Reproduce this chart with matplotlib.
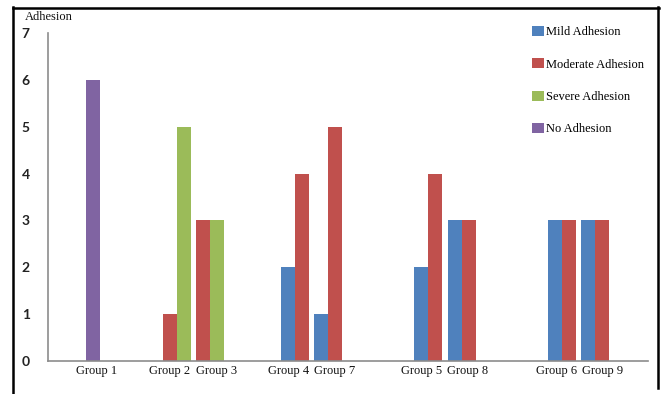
import matplotlib
matplotlib.use("Agg")
import matplotlib.pyplot as plt
from matplotlib.lines import Line2D
from matplotlib.patches import Patch

# ---- data ----
groups = ["Group 1", "Group 2", "Group 3", "Group 4", "Group 7",
          "Group 5", "Group 8", "Group 6", "Group 9"]
series = ["Mild Adhesion", "Moderate Adhesion", "Severe Adhesion", "No Adhesion"]
mild     = [0, 0, 0, 2, 1, 2, 3, 3, 3]
moderate = [0, 1, 3, 4, 5, 4, 3, 3, 3]
severe   = [0, 5, 3, 0, 0, 0, 0, 0, 0]
none_adh = [6, 0, 0, 0, 0, 0, 0, 0, 0]
yticks = [0, 1, 2, 3, 4, 5, 6, 7]

# ---- layout (x in bar-width units) ----
bar_centers = [3.27, 9.26, 11.61, 17.68, 20.02, 27.16, 29.56, 36.76, 39.11]
label_pos = [3.49, 8.74, 12.09, 17.24, 20.49, 26.74, 30.02, 36.38, 39.66]
colors = ["#4F81BD", "#C0504D", "#9BBB59", "#8064A2"]

serif = "Liberation Serif"

fig = plt.figure(figsize=(6.61, 3.94), dpi=100)
fig.patch.set_facecolor("white")
W, H = 661, 394
ax = fig.add_axes([47.7 / W, 1 - 361 / H, (648.3 - 47.7) / W, (361 - 33) / H])

values = [mild, moderate, severe, none_adh]
for gi in range(len(groups)):
    present = [si for si in range(len(series)) if values[si][gi] > 0]
    n = len(present)
    for k, si in enumerate(present):
        x = bar_centers[gi] + (k - (n - 1) / 2)
        ax.bar(x, values[si][gi], width=1.0, color=colors[si], linewidth=0)

ax.set_xlim(0, 42.9)
ax.set_ylim(0, 7)
ax.set_yticks(yticks)
ax.set_yticklabels([str(v) for v in yticks], fontfamily="Lato",
                   fontweight="bold", fontsize=10, color="#222222")
ax.set_xticks(label_pos)
ax.set_xticklabels(groups, fontfamily=serif, fontsize=9, color="#111111")
ax.tick_params(axis="y", length=0, pad=13)
ax.tick_params(axis="x", length=0, pad=3)

for s in ["top", "right"]:
    ax.spines[s].set_visible(False)
for s in ["left", "bottom"]:
    ax.spines[s].set_color("#8c8c8c")
    ax.spines[s].set_linewidth(1.2)

fig.text(25 / W, 1 - 17 / H, "Adhesion", fontfamily=serif, fontsize=9,
         ha="left", va="center", color="#111111")

handles = [Patch(facecolor=c, edgecolor="none") for c in colors]
leg = fig.legend(handles, series, loc="upper left",
                 bbox_to_anchor=(532 / W, 1 - 26 / H),
                 frameon=False, prop={"family": serif, "size": 9},
                 handlelength=0.95, handleheight=0.85, handletextpad=0.15,
                 labelspacing=1.6, borderaxespad=0, borderpad=0)

# outer frame of the figure
lw = 1.8
fig.add_artist(Line2D([13.5 / W, 13.5 / W], [1 - 7 / H, 0], color="black",
                      lw=lw, transform=fig.transFigure))
fig.add_artist(Line2D([13 / W, 658.5 / W], [1 - 7.5 / H, 1 - 7.5 / H],
                      color="black", lw=lw, transform=fig.transFigure))
fig.add_artist(Line2D([658 / W, 658 / W], [1 - 7 / H, 1 - 388 / H],
                      color="black", lw=lw, transform=fig.transFigure))

fig.savefig("out.png", dpi=100, facecolor="white")
